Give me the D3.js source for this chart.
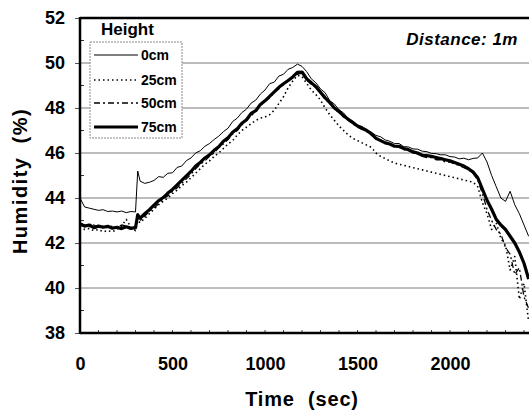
<!DOCTYPE html>
<html><head><meta charset="utf-8">
<script src="https://cdn.jsdelivr.net/npm/d3@7"></script>
<style>body{margin:0;background:#fff}svg{display:block}text{font-family:"Liberation Sans",Arial,sans-serif;font-weight:bold}</style>
</head><body><svg id="c" width="529" height="413"></svg>
<script>
const times = [0,25,50,75,100,125,150,175,200,225,250,275,300,312,325,350,375,400,425,450,475,500,525,550,575,600,625,650,675,700,725,750,775,800,825,850,875,900,925,950,975,1000,1025,1050,1075,1100,1125,1150,1175,1200,1225,1250,1275,1300,1325,1350,1375,1400,1425,1450,1475,1500,1525,1550,1575,1600,1625,1650,1675,1700,1725,1750,1775,1800,1825,1850,1875,1900,1925,1950,1975,2000,2025,2050,2075,2100,2125,2150,2175,2200,2225,2250,2275,2300,2325,2350,2375,2400,2425];
const h0 = [44.0,43.6,43.55,43.5,43.45,43.48,43.4,43.42,43.38,43.42,43.35,43.4,43.38,45.2,44.75,44.65,44.7,44.78,44.95,44.92,45.1,45.12,45.36,45.42,45.66,45.78,46.0,46.1,46.3,46.42,46.6,46.75,46.95,47.1,47.4,47.55,47.8,47.95,48.22,48.35,48.62,48.8,49.08,49.15,49.42,49.5,49.72,49.8,49.95,49.85,49.62,49.3,49.12,48.85,48.68,48.32,48.18,47.92,47.78,47.52,47.42,47.22,47.18,47.02,46.92,46.78,46.72,46.58,46.52,46.42,46.42,46.28,46.27,46.18,46.17,46.08,46.06,45.98,45.97,45.92,45.92,45.84,45.82,45.74,45.77,45.7,45.76,45.78,46.0,45.6,45.0,44.5,44.0,43.85,44.3,43.7,43.3,42.8,42.3];
const h25 = [42.75,42.6,42.65,42.55,42.6,42.5,42.55,42.5,42.6,42.75,43.05,42.7,42.55,43.0,42.9,43.1,43.3,43.5,43.7,43.85,44.0,44.2,44.35,44.55,44.7,44.9,45.1,45.3,45.5,45.65,45.85,46.0,46.2,46.4,46.55,46.8,47.0,47.15,47.3,47.45,47.55,47.6,47.7,47.9,48.2,48.5,48.9,49.2,49.45,49.4,49.1,48.8,48.6,48.35,48.0,47.7,47.45,47.2,47.0,46.8,46.65,46.55,46.45,46.35,46.25,46.0,45.85,45.75,45.65,45.55,45.5,45.45,45.4,45.35,45.3,45.25,45.2,45.15,45.1,45.05,45.0,44.95,44.9,44.85,44.8,44.75,44.7,44.5,43.8,43.3,42.6,42.9,42.2,41.9,40.8,41.4,39.5,40.2,38.5];
const h50 = [42.9,42.8,42.75,42.8,42.7,42.75,42.7,42.75,42.7,42.8,42.75,42.7,42.7,43.3,43.0,43.2,43.4,43.55,43.75,43.95,44.1,44.3,44.45,44.65,44.85,45.05,45.3,45.5,45.65,45.85,46.0,46.25,46.4,46.6,46.85,47.0,47.25,47.45,47.65,47.85,48.1,48.3,48.45,48.7,48.85,49.05,49.2,49.35,49.5,49.55,49.25,49.05,48.9,48.65,48.4,48.2,47.95,47.8,47.6,47.45,47.3,47.15,47.05,46.95,46.8,46.65,46.55,46.45,46.35,46.3,46.25,46.15,46.1,46.0,45.95,45.85,45.8,45.8,45.7,45.7,45.6,45.6,45.5,45.45,45.35,45.25,45.1,44.8,44.2,43.5,43.0,42.6,42.4,41.8,41.5,40.6,40.9,39.6,39.1];
const h75 = [42.85,42.75,42.8,42.68,42.75,42.7,42.74,42.66,42.7,42.64,42.72,42.65,42.68,43.25,43.1,43.3,43.48,43.68,43.88,44.02,44.22,44.38,44.58,44.78,44.98,45.18,45.42,45.58,45.78,45.92,46.12,46.28,46.52,46.68,46.92,47.08,47.32,47.48,47.76,47.88,48.16,48.32,48.52,48.72,48.92,49.08,49.22,49.38,49.58,49.6,49.3,49.12,48.95,48.7,48.45,48.25,48.0,47.85,47.65,47.5,47.35,47.2,47.1,47.0,46.85,46.65,46.55,46.45,46.4,46.3,46.3,46.2,46.15,46.05,46.0,45.9,45.88,45.85,45.8,45.75,45.7,45.65,45.58,45.5,45.42,45.3,45.15,44.9,44.4,43.9,43.5,43.05,42.8,42.6,42.3,42.0,41.6,41.1,40.4];
const yTicks = [38,40,42,44,46,48,50,52];
const xTicks = [0,500,1000,1500,2000];
const legendLabels = ["0cm","25cm","50cm","75cm"];

const svg = d3.select("#c");
const L = 80, R = 529, T = 18, B = 333;
const x = d3.scaleLinear().domain([0, 2427]).range([L, R]);
const y = d3.scaleLinear().domain([38, 52]).range([B, T]);

svg.append("defs").append("clipPath").attr("id","clip").append("rect")
  .attr("x", L).attr("y", T).attr("width", R - L).attr("height", B - T);

// gridlines
svg.append("g").selectAll("line").data(yTicks.filter(v => v > 38 && v < 52)).join("line")
  .attr("x1", L).attr("x2", R).attr("y1", d => y(d)).attr("y2", d => y(d))
  .attr("stroke", "#7a7a7a").attr("stroke-width", 1);

// lines
const styles = [
  {data: h0, w: 1, dash: null},
  {data: h25, w: 1.6, dash: "1.5,3"},
  {data: h50, w: 1.3, dash: "6,3,2,3"},
  {data: h75, w: 3.2, dash: null}
];
const line = d3.line().x((d, i) => x(times[i])).y(d => y(d));
const lg = svg.append("g").attr("clip-path", "url(#clip)");
styles.forEach(s => {
  lg.append("path").attr("d", line(s.data)).attr("fill", "none")
    .attr("stroke", "#000").attr("stroke-width", s.w)
    .attr("stroke-dasharray", s.dash).attr("stroke-linejoin", "round");
});

// axes
const yAxis = d3.axisLeft(y).tickValues(yTicks).tickSize(5).tickPadding(10).tickFormat(d3.format("d"));
const gy = svg.append("g").attr("transform", `translate(${L},0)`).call(yAxis);
gy.select(".domain").remove();
gy.selectAll("text").attr("font-size", 18).attr("font-family", "Liberation Sans, Arial").attr("font-weight", "bold");
gy.selectAll(".tick line").attr("stroke", "#555");

const xAxis = d3.axisBottom(x).tickValues(xTicks).tickSize(0).tickPadding(24).tickFormat(d3.format("d"));
const gx = svg.append("g").attr("transform", `translate(0,${B})`).call(xAxis);
gx.select(".domain").remove();
gx.selectAll("text").attr("font-size", 18).attr("font-family", "Liberation Sans, Arial").attr("font-weight", "bold");

// minor ticks
const minorY = [39,41,43,45,47,49,51];
svg.append("g").selectAll("line").data(minorY).join("line")
  .attr("x1", L).attr("x2", L + 4).attr("y1", d => y(d)).attr("y2", d => y(d))
  .attr("stroke", "#333").attr("stroke-width", 1);
const minorX = d3.range(100, 2427, 100);
svg.append("g").selectAll("line").data(minorX).join("line")
  .attr("x1", d => x(d)).attr("x2", d => x(d)).attr("y1", B).attr("y2", B - 3)
  .attr("stroke", "#444").attr("stroke-width", 1);

// frame
svg.append("line").attr("x1", L).attr("x2", R).attr("y1", T).attr("y2", T).attr("stroke", "#000").attr("stroke-width", 2.5);
svg.append("line").attr("x1", L).attr("x2", R).attr("y1", B).attr("y2", B).attr("stroke", "#000").attr("stroke-width", 2.5);
svg.append("line").attr("x1", L).attr("x2", L).attr("y1", T - 1).attr("y2", B + 1).attr("stroke", "#000").attr("stroke-width", 2.5);

// axis titles
svg.append("text").attr("x", 302).attr("y", 406).attr("text-anchor", "middle").attr("font-size", 20)
  .attr("letter-spacing", 0.8).attr("word-spacing", 7).text("Time (sec)");
svg.append("text").attr("transform", "translate(27,181) rotate(-90)").attr("text-anchor", "middle")
  .attr("font-size", 20).attr("letter-spacing", 1.5).attr("word-spacing", 6).text("Humidity (%)");

// Distance label
svg.append("text").attr("x", 518).attr("y", 45).attr("text-anchor", "end").attr("font-size", 17)
  .attr("letter-spacing", 0.5).attr("font-style", "italic").text("Distance: 1m");

// legend
svg.append("text").attr("x", 101).attr("y", 35).attr("font-size", 17).text("Height");
svg.append("rect").attr("x", 90).attr("y", 42).attr("width", 92).attr("height", 96)
  .attr("fill", "#fff").attr("stroke", "#888").attr("stroke-width", 1).attr("stroke-dasharray", "2,1");
const rowY = [55, 80, 103, 127];
legendLabels.forEach((lab, i) => {
  svg.append("line").attr("x1", 94).attr("x2", 138).attr("y1", rowY[i]).attr("y2", rowY[i])
    .attr("stroke", "#000").attr("stroke-width", styles[i].w).attr("stroke-dasharray", styles[i].dash);
  svg.append("text").attr("x", 141).attr("y", rowY[i] + 5).attr("font-size", 14).text(lab);
});
</script></body></html>
